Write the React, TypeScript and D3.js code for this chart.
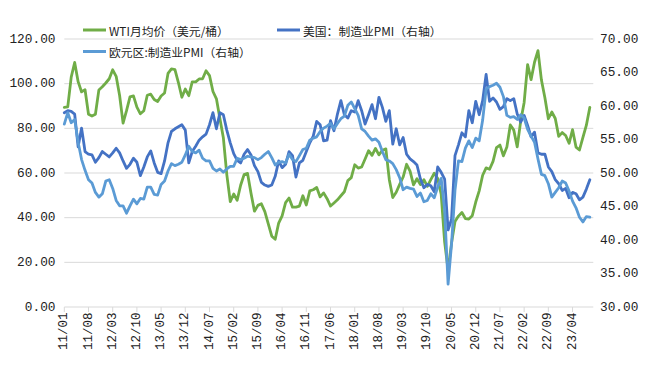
import React from "react";
import * as d3 from "d3";

// monthly data, 2011-01 .. 2023-09 (axis runs one month further, to 2023-10)
const startYear = 2011;
const monthCount = 154;

const tickLabels = [
  "11/01", "11/08", "12/03", "12/10", "13/05", "13/12", "14/07", "15/02",
  "15/09", "16/04", "16/11", "17/06", "18/01", "18/08", "19/03", "19/10",
  "20/05", "20/12", "21/07", "22/02", "22/09", "23/04",
];

const leftTicks = [0, 20, 40, 60, 80, 100, 120];
const rightTicks = [30, 35, 40, 45, 50, 55, 60, 65, 70];

// WTI monthly average, USD/bbl
const wti = [
  89.4, 89.6, 102.9, 109.5, 100.9, 96.3, 97.3, 86.3, 85.5, 86.3, 97.2, 98.6,
  100.3, 102.2, 106.2, 103.3, 94.7, 82.3, 87.9, 94.1, 94.5, 89.5, 86.5, 87.9,
  94.8, 95.3, 92.9, 92.0, 94.5, 95.8, 104.6, 106.6, 106.3, 100.5, 93.9, 97.6,
  94.6, 100.8, 100.8, 102.1, 102.2, 105.8, 103.6, 96.5, 93.2, 84.4, 75.8, 59.3,
  47.2, 50.6, 47.8, 54.5, 59.3, 59.8, 50.9, 42.9, 45.5, 46.2, 42.7, 37.2,
  31.7, 30.3, 37.6, 40.8, 46.7, 48.8, 44.7, 44.7, 45.2, 49.8, 45.7, 52.0,
  52.5, 53.5, 49.3, 51.1, 48.5, 45.2, 46.6, 48.0, 49.8, 51.6, 56.6, 57.9,
  63.7, 62.2, 62.7, 66.3, 70.0, 67.9, 71.0, 68.1, 70.2, 70.8, 57.0, 49.0,
  51.4, 54.9, 58.2, 63.9, 60.8, 54.7, 57.4, 54.8, 57.0, 54.0, 57.0, 59.9,
  57.5, 50.5, 29.2, 16.6, 28.6, 38.3, 40.7, 42.3, 39.6, 39.4, 40.9, 47.0,
  52.0, 59.0, 62.3, 61.7, 65.2, 71.4, 72.5, 67.7, 71.6, 81.5, 79.2, 71.7,
  83.2, 91.6, 108.5, 101.8, 109.6, 114.8, 101.6, 93.7, 84.3, 87.3, 84.4, 76.4,
  78.1, 76.8, 73.3, 79.4, 71.6, 70.3, 76.0, 81.4, 89.4,
];

// US manufacturing PMI (right axis)
const usPmi = [
  59.0, 59.3, 59.2, 58.8, 53.9, 56.7, 53.2, 52.8, 52.7, 51.6, 52.3, 53.2,
  52.8, 52.4, 53.0, 53.7, 53.0, 51.8, 50.7, 51.3, 52.2, 51.6, 49.6, 50.9,
  52.4, 53.3, 51.5, 50.1, 49.9, 51.8, 54.5, 56.2, 56.6, 56.9, 57.2, 56.4,
  51.5, 53.2, 54.0, 54.9, 55.4, 55.8, 57.2, 59.0, 56.6, 59.0, 58.7, 56.4,
  54.5, 52.9, 51.9, 51.5, 52.8, 53.5, 52.7, 51.1, 50.2, 48.6, 48.2, 48.0,
  48.2, 49.5, 51.8, 50.8, 51.3, 53.2, 52.6, 49.4, 51.5, 51.9, 53.2, 54.5,
  55.5, 57.7, 57.2, 54.8, 54.9, 57.8, 56.3, 58.8, 60.8, 58.7, 58.2, 59.3,
  59.1, 60.8, 59.3, 57.3, 58.7, 60.2, 58.1, 61.3, 59.8, 57.7, 59.3, 54.3,
  56.6, 54.2, 55.3, 52.8, 52.1, 51.7, 51.2, 49.1, 47.8, 48.3, 48.1, 47.2,
  50.9, 50.1, 49.1, 41.5, 43.1, 52.6, 54.2, 56.0, 55.4, 59.3, 57.5, 60.7,
  58.7, 60.8, 64.7, 60.7, 61.2, 60.6, 59.5, 59.9, 61.1, 60.8, 61.1, 58.8,
  57.6, 58.6, 57.1, 55.4, 56.1, 53.0, 52.8, 52.8, 50.9, 50.2, 49.0, 48.4,
  47.4, 47.7, 46.3, 47.1, 46.9, 46.0, 46.4, 47.6, 49.0,
];

// Eurozone manufacturing PMI (right axis)
const euPmi = [
  57.3, 59.0, 57.5, 58.0, 54.6, 52.0, 50.4, 49.0, 48.5, 47.1, 46.4, 46.9,
  48.8, 49.0, 47.7, 45.9, 45.1, 45.1, 44.0, 45.1, 46.1, 45.4, 46.2, 46.1,
  47.9, 47.9, 46.8, 46.7, 48.3, 48.8, 50.3, 51.4, 51.1, 51.3, 51.6, 52.7,
  54.0, 53.2, 53.0, 53.4, 52.2, 51.8, 51.8, 50.7, 50.3, 50.6, 50.1, 50.6,
  51.0, 51.0, 52.2, 52.0, 52.2, 52.5, 52.4, 52.3, 52.0, 52.3, 52.8, 53.2,
  52.3, 51.2, 51.6, 51.7, 51.5, 52.8, 52.0, 51.7, 52.6, 53.5, 53.7, 54.9,
  55.2, 55.4, 56.2, 56.7, 57.0, 57.4, 56.6, 57.4, 58.1, 58.5, 60.1, 60.6,
  59.6, 58.6, 56.6, 56.2, 55.5, 54.9, 55.1, 54.6, 53.2, 52.0, 51.8, 51.4,
  50.5, 49.3, 47.5, 47.9, 47.7, 47.6, 46.5, 47.0, 45.7, 45.9, 46.9, 46.3,
  47.9, 49.2, 44.5, 33.4, 39.4, 47.4, 51.8, 51.7, 53.7, 54.8, 53.8, 55.2,
  54.8, 57.9, 62.5, 62.9, 63.1, 63.4, 62.8, 61.4, 58.6, 58.3, 58.4, 58.0,
  58.7, 58.2, 56.5, 55.5, 54.6, 52.1, 49.8, 49.6, 48.4, 46.4, 47.1, 47.8,
  48.8, 48.5, 47.3, 45.8, 44.8, 43.4, 42.7, 43.5, 43.4,
];

const months = d3.range(monthCount).map((i) => {
  const y = startYear + Math.floor(i / 12);
  const m = (i % 12) + 1;
  return `${String(y).slice(2)}/${String(m).padStart(2, "0")}`;
});

const legendItems = [
  { label: "WTI月均价（美元/桶）", color: "#70AD47", col: 0, row: 0 },
  { label: "美国：制造业PMI（右轴）", color: "#4472C4", col: 1, row: 0 },
  { label: "欧元区:制造业PMI（右轴）", color: "#5B9BD5", col: 0, row: 1 },
];

const W = 648;
const H = 368;
const margin = { left: 64.3, right: 54.7, top: 39, bottom: 61 };
const numFont = "'Liberation Mono', monospace";
const cjkFont = "'Noto Sans CJK SC', sans-serif";

export default function App() {
  const x = d3
    .scalePoint<string>()
    .domain(months)
    .range([margin.left, W - margin.right]);
  const yLeft = d3.scaleLinear().domain([0, 120]).range([H - margin.bottom, margin.top]);
  const yRight = d3.scaleLinear().domain([30, 70]).range([H - margin.bottom, margin.top]);

  const lineLeft = d3
    .line<number>()
    .x((d, i) => x(months[i]) as number)
    .y((d) => yLeft(d));
  const lineRight = d3
    .line<number>()
    .x((d, i) => x(months[i]) as number)
    .y((d) => yRight(d));

  const y0 = yLeft(0);

  return (
    <svg
      width={W}
      height={H}
      style={{ position: "absolute", left: 0, top: 0, background: "#fff" }}
    >
      {/* grid */}
      {leftTicks.map((t) => (
        <line
          key={t}
          x1={margin.left}
          x2={W - margin.right}
          y1={yLeft(t)}
          y2={yLeft(t)}
          stroke="#D9D9D9"
          strokeWidth={1}
        />
      ))}

      {/* x ticks */}
      {tickLabels.map((lab) => (
        <g key={lab} transform={`translate(${x(lab)},0)`}>
          <line y1={y0} y2={y0 + 5} stroke="#D9D9D9" />
          <text
            transform={`translate(0,${y0 + 5.5}) rotate(-90)`}
            textAnchor="end"
            dominantBaseline="central"
            fontFamily={numFont}
            fontSize={12.5}
            fill="#222"
          >
            {lab}
          </text>
        </g>
      ))}

      {/* left axis labels */}
      {leftTicks.map((t) => (
        <text
          key={t}
          x={55.5}
          y={yLeft(t)}
          textAnchor="end"
          dominantBaseline="central"
          fontFamily={numFont}
          fontSize={12.8}
          fill="#222"
        >
          {t.toFixed(2)}
        </text>
      ))}

      {/* right axis labels */}
      {rightTicks.map((t) => (
        <text
          key={t}
          x={600}
          y={yRight(t)}
          textAnchor="start"
          dominantBaseline="central"
          fontFamily={numFont}
          fontSize={12.8}
          fill="#222"
        >
          {t.toFixed(2)}
        </text>
      ))}

      {/* series */}
      <g fill="none" strokeWidth={2.8} strokeLinejoin="round" strokeLinecap="round">
        <path d={lineLeft(wti) ?? ""} stroke="#70AD47" />
        <path d={lineRight(usPmi) ?? ""} stroke="#4472C4" />
        <path d={lineRight(euPmi) ?? ""} stroke="#5B9BD5" />
      </g>

      {/* legend */}
      {legendItems.map((it) => {
        const lx = it.col === 0 ? 83 : 277;
        const ly = it.row === 0 ? 30 : 51.5;
        return (
          <g key={it.label}>
            <line x1={lx} x2={lx + 23} y1={ly} y2={ly} stroke={it.color} strokeWidth={3} />
            <text
              x={lx + 26}
              y={ly}
              dominantBaseline="central"
              fontFamily={cjkFont}
              fontSize={11.8}
              fill="#222"
            >
              {it.label}
            </text>
          </g>
        );
      })}
    </svg>
  );
}
